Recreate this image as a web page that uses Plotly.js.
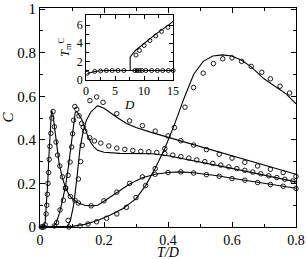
<!DOCTYPE html>
<html>
<head>
<meta charset="utf-8">
<script src="https://cdn.plot.ly/plotly-3.0.1.min.js"></script>
<style>html,body{margin:0;padding:0;background:#fff;}#chart{width:307px;height:259px;}</style>
</head>
<body>
<div id="chart"></div>
<script>
// ---- main panel: theory lines ----
const lineA_T = [0, 0.012, 0.016, 0.02, 0.024, 0.028, 0.032, 0.036, 0.04, 0.045, 0.05, 0.055, 0.06, 0.07, 0.08, 0.09, 0.1, 0.12, 0.14, 0.16, 0.18, 0.2, 0.24, 0.28, 0.32, 0.36, 0.4, 0.44, 0.48, 0.52, 0.56, 0.6, 0.64, 0.68, 0.72, 0.76, 0.8];
const lineA_C = [0, 0, 0.02, 0.09, 0.2, 0.33, 0.46, 0.535, 0.52, 0.46, 0.39, 0.33, 0.29, 0.225, 0.18, 0.15, 0.13, 0.11, 0.1, 0.097, 0.1, 0.118, 0.157, 0.197, 0.226, 0.242, 0.25, 0.253, 0.249, 0.242, 0.234, 0.224, 0.215, 0.205, 0.196, 0.187, 0.178];
const lineB_T = [0, 0.04, 0.05, 0.06, 0.07, 0.08, 0.09, 0.1, 0.105, 0.11, 0.115, 0.12, 0.13, 0.14, 0.15, 0.16, 0.17, 0.18, 0.2, 0.25, 0.3, 0.35, 0.4, 0.5, 0.6, 0.7, 0.8];
const lineB_C = [0, 0, 0.015, 0.06, 0.12, 0.19, 0.29, 0.42, 0.49, 0.525, 0.53, 0.52, 0.495, 0.455, 0.415, 0.385, 0.365, 0.352, 0.343, 0.338, 0.337, 0.336, 0.327, 0.299, 0.269, 0.238, 0.207];
const lineC_T = [0, 0.085, 0.095, 0.105, 0.115, 0.125, 0.135, 0.145, 0.16, 0.18, 0.2, 0.21, 0.24, 0.27, 0.3, 0.35, 0.4, 0.5, 0.6, 0.7, 0.8];
const lineC_C = [0, 0, 0.03, 0.1, 0.22, 0.36, 0.44, 0.49, 0.53, 0.557, 0.545, 0.534, 0.504, 0.475, 0.457, 0.433, 0.412, 0.37, 0.326, 0.283, 0.242];
const lineD_T = [0, 0.06, 0.1, 0.14, 0.18, 0.22, 0.26, 0.3, 0.33, 0.36, 0.39, 0.42, 0.45, 0.48, 0.51, 0.54, 0.57, 0.6, 0.63, 0.66, 0.7, 0.74, 0.77, 0.8];
const lineD_C = [0, 0, 0.003, 0.012, 0.03, 0.055, 0.085, 0.13, 0.19, 0.27, 0.36, 0.47, 0.59, 0.7, 0.76, 0.785, 0.79, 0.785, 0.765, 0.735, 0.68, 0.64, 0.61, 0.565];

// ---- main panel: simulation points ----
const circA_T = [0.004, 0.008, 0.012, 0.016, 0.019, 0.021, 0.023, 0.025, 0.027, 0.029, 0.031, 0.034, 0.037, 0.041, 0.045, 0.05, 0.055, 0.062, 0.07, 0.08, 0.095, 0.12, 0.16, 0.2, 0.24, 0.28, 0.32, 0.36, 0.4, 0.44, 0.48, 0.52, 0.56, 0.6, 0.64, 0.68, 0.72, 0.76, 0.8];
const circA_C = [0, 0, 0, 0.01, 0.06, 0.1, 0.15, 0.2, 0.25, 0.31, 0.37, 0.43, 0.5, 0.53, 0.46, 0.39, 0.33, 0.28, 0.23, 0.18, 0.14, 0.11, 0.097, 0.12, 0.16, 0.2, 0.23, 0.242, 0.25, 0.253, 0.248, 0.24, 0.233, 0.222, 0.215, 0.204, 0.195, 0.187, 0.177];
const circB_T = [0.045, 0.052, 0.0625, 0.073, 0.08, 0.088, 0.094, 0.099, 0.102, 0.105, 0.109, 0.115, 0.122, 0.13, 0.14, 0.155, 0.17, 0.19, 0.215, 0.24, 0.265, 0.29, 0.315, 0.34, 0.365, 0.39, 0.415, 0.44, 0.465, 0.49, 0.515, 0.54, 0.565, 0.59, 0.615, 0.64, 0.665, 0.69, 0.715, 0.74, 0.765, 0.79];
const circB_C = [0.005, 0.02, 0.078, 0.123, 0.177, 0.237, 0.298, 0.367, 0.428, 0.49, 0.553, 0.54, 0.51, 0.475, 0.44, 0.41, 0.395, 0.385, 0.372, 0.362, 0.356, 0.351, 0.347, 0.345, 0.342, 0.337, 0.33, 0.323, 0.316, 0.308, 0.3, 0.292, 0.284, 0.276, 0.268, 0.26, 0.252, 0.244, 0.235, 0.227, 0.219, 0.211];
const circC_T = [0.088, 0.109, 0.12, 0.127, 0.132, 0.135, 0.156, 0.177, 0.197, 0.24, 0.28, 0.32, 0.36, 0.4, 0.44, 0.48, 0.52, 0.56, 0.6, 0.64, 0.68, 0.72, 0.76, 0.8];
const circC_C = [0.03, 0.123, 0.22, 0.3, 0.375, 0.458, 0.58, 0.597, 0.572, 0.52, 0.487, 0.465, 0.44, 0.418, 0.396, 0.376, 0.355, 0.334, 0.316, 0.297, 0.28, 0.265, 0.25, 0.232];
const circD_T = [0.09, 0.125, 0.15, 0.177, 0.208, 0.24, 0.27, 0.3, 0.33, 0.36, 0.39, 0.42, 0.453, 0.48, 0.51, 0.542, 0.571, 0.6, 0.63, 0.66, 0.693, 0.72, 0.75, 0.78];
const circD_C = [0, 0.005, 0.014, 0.024, 0.04, 0.06, 0.09, 0.135, 0.19, 0.268, 0.36, 0.456, 0.55, 0.64, 0.706, 0.75, 0.772, 0.776, 0.76, 0.737, 0.71, 0.68, 0.646, 0.615];

// ---- inset ----
const insLowLine_D = [0.2, 1, 1.5, 2.5, 4, 15];
const insLowLine_T = [0.68, 0.82, 0.9, 0.97, 1.0, 1.0];
const insUpLine_D = [7.6, 7.6, 8.5, 10, 12, 14, 15];
const insUpLine_T = [1.0, 2.5, 3.2, 4.0, 5.0, 5.9, 6.4];
const insLowPts_D = [0.2, 1.5, 2.5, 3.5, 4.5, 5.5, 6.5, 8.4, 8.8, 9.2, 9.6, 10.3, 11.3, 12.3, 13.2, 14.2, 15];
const insLowPts_T = [0.7, 0.9, 0.95, 1, 1, 1, 1, 1, 1, 1, 1, 1, 1, 1, 1, 1, 1];
const insUpPts_D = [8.6, 9.2, 10, 11, 12, 13, 14.1];
const insUpPts_T = [2.7, 3.2, 3.75, 4.3, 4.8, 5.3, 5.75];

const xTickVals = [0, 0.2, 0.4, 0.6, 0.8];
const xTickText = ['0', '0.2', '0.4', '0.6', '0.8'];
const yTickVals = [0, 0.2, 0.4, 0.6, 0.8, 1];
const yTickText = ['0', '0.2', '0.4', '0.6', '0.8', '1'];
const insXTickVals = [0, 5, 10, 15];
const insYTickVals = [0, 2, 4, 6];
const xTitle = '<i>T/D</i>';

const serif = '"Liberation Serif", "Times New Roman", Times, "DejaVu Serif", serif';
const lineStyle = {color: '#000', width: 1.1};
const circ = {symbol: 'circle-open', size: 4.5, color: '#000', line: {width: 0.9, color: '#000'}};
const circSmall = {symbol: 'circle-open', size: 4, color: '#000', line: {width: 0.9, color: '#000'}};

function L(x, y, xa, ya) { return {x, y, xaxis: xa, yaxis: ya, mode: 'lines', line: lineStyle, hoverinfo: 'skip', showlegend: false}; }
function P(x, y, m, xa, ya) { return {x, y, xaxis: xa, yaxis: ya, mode: 'markers', marker: m, hoverinfo: 'skip', showlegend: false, cliponaxis: false}; }

const data = [
  L(lineA_T, lineA_C, 'x', 'y'), L(lineB_T, lineB_C, 'x', 'y'), L(lineC_T, lineC_C, 'x', 'y'), L(lineD_T, lineD_C, 'x', 'y'),
  P(circA_T, circA_C, circ, 'x', 'y'), P(circB_T, circB_C, circ, 'x', 'y'), P(circC_T, circC_C, circ, 'x', 'y'), P(circD_T, circD_C, circ, 'x', 'y'),
  L(insLowLine_D, insLowLine_T, 'x2', 'y2'), L(insUpLine_D, insUpLine_T, 'x2', 'y2'),
  P(insLowPts_D, insLowPts_T, circSmall, 'x2', 'y2'), P(insUpPts_D, insUpPts_T, circSmall, 'x2', 'y2')
];

const axBase = {showline: true, linecolor: '#000', linewidth: 1, mirror: 'ticks', ticks: 'inside', tickcolor: '#000', tickwidth: 1, showgrid: false, zeroline: false};

const layout = {
  width: 307, height: 259,
  margin: {l: 40, r: 11, t: 8, b: 32, pad: 0},
  paper_bgcolor: '#fff', plot_bgcolor: '#fff',
  font: {family: serif, color: '#000', size: 15},
  showlegend: false,
  xaxis: Object.assign({}, axBase, {
    domain: [0, 1], range: [0, 0.8], tickmode: 'array', tickvals: xTickVals, ticktext: xTickText, ticklen: 5,
    minor: {dtick: 0.1, ticks: 'inside', ticklen: 3, tickcolor: '#000', tickwidth: 1},
    tickfont: {family: serif, size: 14}, ticklabelstandoff: 0
  }),
  yaxis: Object.assign({}, axBase, {
    domain: [0, 1], range: [0, 1.005], tickmode: 'array', tickvals: yTickVals, ticktext: yTickText, ticklen: 5,
    minor: {dtick: 0.1, ticks: 'inside', ticklen: 3, tickcolor: '#000', tickwidth: 1},
    tickfont: {family: serif, size: 15}, ticklabeloverflow: 'allow',
    title: {text: '<i>C</i>', font: {family: serif, size: 15}, standoff: 8}
  }),
  xaxis2: Object.assign({}, axBase, {
    domain: [0.18, 0.52], anchor: 'y2', range: [0, 15], tickmode: 'array', tickvals: insXTickVals, ticklen: 4,
    minor: {dtick: 2.5, ticks: 'inside', ticklen: 2.5, tickcolor: '#000', tickwidth: 1},
    tickfont: {family: serif, size: 12},
    title: {text: '<i>D</i>', font: {family: serif, size: 13}, standoff: 2}
  }),
  yaxis2: Object.assign({}, axBase, {
    domain: [0.673, 0.968], anchor: 'x2', range: [0, 7.1], tickmode: 'array', tickvals: insYTickVals, ticklen: 4,
    minor: {dtick: 1, ticks: 'inside', ticklen: 2.5, tickcolor: '#000', tickwidth: 1},
    tickfont: {family: serif, size: 12},
    title: {text: '<i>T</i><sub>m</sub><sup>C</sup>', font: {family: serif, size: 12}, standoff: 4}
  }),
  annotations: [{
    text: xTitle, xref: 'paper', yref: 'paper', x: 0.5, y: -0.118, xanchor: 'center', yanchor: 'middle',
    showarrow: false, font: {family: serif, size: 14, color: '#000'}
  }]
};

Plotly.newPlot('chart', data, layout, {staticPlot: true, displayModeBar: false});
</script>
</body>
</html>
